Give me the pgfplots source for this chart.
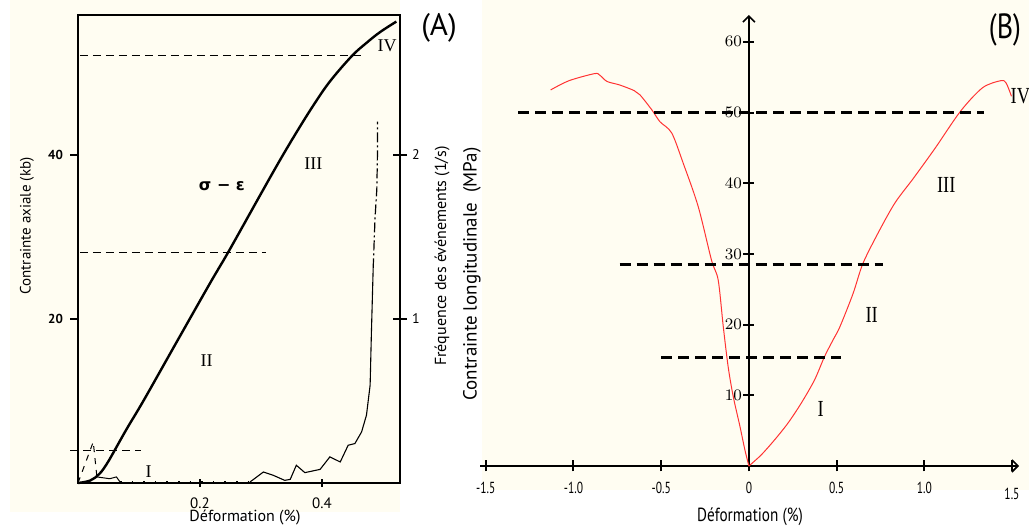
\documentclass[border=0pt]{standalone}
\usepackage{fontspec}
\setmainfont{PT Sans}
\newfontfamily\condfont[FakeStretch=0.72]{PT Sans}
\newfontfamily\condB[FakeStretch=0.8]{PT Sans}
\newfontfamily\greekfont{DejaVu Sans}
\newfontfamily\seriffont{Liberation Serif}
\newfontfamily\serifcond[FakeStretch=0.8]{Liberation Serif}
\usepackage{pgfplots}
\pgfplotsset{compat=1.18}
\usetikzlibrary{arrows.meta}
\definecolor{cream}{HTML}{FFFDF2}
\definecolor{redline}{HTML}{FF3333}
\begin{document}
\begin{tikzpicture}
\path[use as bounding box, fill=white] (0,0) rectangle (514.5pt,264pt);
\fill[cream] (5pt,8pt) rectangle (200pt,264pt);
\fill[cream] (241pt,19pt) rectangle (514.5pt,264pt);

% ---------- Panel A : stress-strain ----------
\begin{axis}[at={(39pt,22.5pt)}, anchor=south west, scale only axis,
  width=161pt, height=234pt,
  xmin=0, xmax=0.528, ymin=0, ymax=57,
  axis line style={line width=1.2pt},
  xtick={0.2,0.4}, xticklabels={0.2,0.4},
  ytick={20,40}, yticklabels={20,40},
  xtick pos=bottom, ytick pos=left,
  xtick align=center, ytick align=outside,
  major tick length=4pt,
  tick style={line width=1pt, black},
  xticklabel style={font=\fontsize{7.5}{8}\selectfont, anchor=center, yshift=-8pt},
  yticklabel style={font=\fontsize{6.5}{7}\selectfont\bfseries},
  clip=false]
\addplot[black, line width=1.2pt, smooth, tension=0.6] coordinates {
 (0,0) (0.020,0.3) (0.035,1.1) (0.047,2.3) (0.058,3.7) (0.080,6.6) (0.108,10.1)
 (0.162,17.2) (0.217,24.4) (0.247,28.2) (0.299,35.1) (0.331,39.3) (0.359,42.8)
 (0.386,46.0) (0.413,48.9) (0.449,52.0) (0.473,53.6) (0.495,54.9) (0.522,56.2)};
\addplot[black, line width=0.6pt, dash pattern=on 4pt off 2.5pt] coordinates {(-0.013,4.0) (0.104,4.0)};
\addplot[black, line width=0.6pt, dash pattern=on 4pt off 2.5pt] coordinates {(0.003,28.1) (0.309,28.1)};
\addplot[black, line width=0.6pt, dash pattern=on 4pt off 2.5pt] coordinates {(0.003,52.1) (0.468,52.1)};
\node[font=\greekfont\bfseries\fontsize{8}{9}\selectfont] at (axis cs:0.236,36.1) {σ − ε};
\node[font=\seriffont\fontsize{9}{10}\selectfont] at (axis cs:0.386,38.9) {III};
\node[font=\seriffont\fontsize{9}{10}\selectfont] at (axis cs:0.211,14.9) {II};
\node[font=\seriffont\fontsize{9}{10}\selectfont] at (axis cs:0.116,1.4) {I};
\node[font=\seriffont\fontsize{9}{10}\selectfont] at (axis cs:0.507,53.3) {IV};
\end{axis}

% ---------- Panel A : event frequency (right axis) ----------
\begin{axis}[at={(39pt,22.5pt)}, anchor=south west, scale only axis,
  width=161pt, height=234pt,
  xmin=0, xmax=0.528, ymin=0, ymax=2.85,
  axis x line=none, axis y line*=right,
  axis line style={line width=1.2pt},
  ytick={1,2}, yticklabels={1,2}, ytick align=center,
  major tick length=7pt, tick style={line width=1pt, black},
  yticklabel style={font=\fontsize{7}{8}\selectfont, anchor=west, xshift=-1pt},
  clip=false]
\addplot[black, line width=0.5pt, dashed] coordinates {(0,0) (0.025,0.25) (0.031,0.037)};
\addplot[black, line width=0.5pt] coordinates {(0.031,0.037) (0.052,0.026) (0.063,0.037) (0.069,0.006)};
\addplot[black, line width=0.6pt, dash pattern=on 0.8pt off 5pt] coordinates {(0.069,0.006) (0.282,0.006)};
\addplot[black, line width=0.55pt] coordinates {
 (0.282,0.006) (0.304,0.067) (0.320,0.047) (0.339,0.016) (0.348,0.022) (0.358,0.108)
 (0.372,0.063) (0.397,0.083) (0.413,0.159) (0.430,0.128) (0.443,0.230) (0.454,0.240)
 (0.465,0.311) (0.473,0.413) (0.479,0.596) (0.481,0.900) (0.484,1.307)};
\addplot[black, line width=0.6pt, dash pattern=on 5pt off 1.5pt on 1pt off 1.5pt] coordinates {
 (0.484,1.307) (0.487,1.61) (0.490,1.79) (0.491,2.0) (0.491,2.20)};
\end{axis}

% Panel A texts
\node[font=\fontsize{7.5}{9}\selectfont, rotate=90] at (13.5pt,151pt) {Contrainte axiale (kb)};
\node[font=\fontsize{8}{9}\selectfont, rotate=90] at (221pt,136pt) {Fréquence des événements (1/s)};
\node[font=\fontsize{8}{9}\selectfont] at (122.5pt,5pt) {Déformation (\%)};
\node[font=\fontsize{15.5}{17}\selectfont] at (219.5pt,250pt) {(A)};

% ---------- Panel B ----------
\begin{axis}[at={(240pt,31pt)}, anchor=south west, scale only axis,
  width=269.5pt, height=225.5pt,
  xmin=-1.533, xmax=1.54, ymin=0, ymax=63.8,
  axis lines=middle,
  axis line style={line width=1.1pt, -{Straight Barb[length=3pt,width=6pt,line width=0.8pt]}},
  xtick={-1.5,-1,-0.5,0,0.5,1}, xticklabels={-1.5,-1.0,-0.5,0,0.5,1.0},
  extra x ticks={1.5}, extra x tick labels={1.5},
  extra x tick style={xticklabel style={yshift=-3pt}},
  ytick={10,20,30,40,50,60},
  hide obscured x ticks=false,
  tick align=center, major tick length=5.5pt,
  tick style={line width=1pt, black},
  xticklabel style={font=\condfont\fontsize{8}{9}\selectfont, anchor=center, yshift=-8pt},
  yticklabel style={font=\condfont\fontsize{8}{9}\selectfont, anchor=center, xshift=-5pt},
  clip=false]
\addplot[redline, line width=0.5pt, smooth, tension=0.5] coordinates {
 (-1.130,53.2) (-1.026,54.5) (-0.881,55.5) (-0.851,55.3) (-0.809,54.4) (-0.737,53.9)
 (-0.654,53.1) (-0.621,52.5) (-0.554,50.4) (-0.507,48.7) (-0.440,47.1) (-0.374,42.8)
 (-0.289,36.7) (-0.213,29.1) (-0.175,26.3) (-0.146,19.7) (-0.118,14.0) (-0.089,9.8)
 (-0.051,5.6) (-0.023,2.3) (0,0)};
\addplot[redline, line width=0.5pt, smooth, tension=0.5] coordinates {
 (0,0) (0.070,1.56) (0.146,3.68) (0.222,6.04) (0.298,8.87) (0.374,12.16) (0.431,15.46)
 (0.479,17.8) (0.519,19.7) (0.594,24.4) (0.651,28.7) (0.746,33.4) (0.835,37.3)
 (0.938,40.7) (1.063,45.0) (1.207,50.2) (1.332,53.5) (1.435,54.5) (1.466,54.2) (1.497,52.3)};
\addplot[black, line width=1.4pt, dash pattern=on 5.5pt off 3pt] coordinates {(-1.316,50) (1.342,50)};
\addplot[black, line width=1.4pt, dash pattern=on 5.5pt off 3pt] coordinates {(-0.737,28.5) (0.763,28.5)};
\addplot[black, line width=1.4pt, dash pattern=on 5.5pt off 3pt] coordinates {(-0.499,15.3) (0.525,15.3)};
\node[font=\serifcond\fontsize{11.5}{12}\selectfont] at (axis cs:0.41,8) {I};
\node[font=\serifcond\fontsize{11.5}{12}\selectfont] at (axis cs:0.70,21.4) {II};
\node[font=\serifcond\fontsize{11.5}{12}\selectfont] at (axis cs:1.125,39.7) {III};
\node[font=\serifcond\fontsize{11.5}{12}\selectfont, anchor=west, inner sep=0pt] at (axis cs:1.490,52.3) {IV};
\end{axis}

% Panel B texts
\node[font=\fontsize{9.5}{11}\selectfont, rotate=90] at (236pt,127pt) {Contrainte longitudinale\ \ (MPa)};
\node[font=\condB\fontsize{9.5}{11}\selectfont] at (375pt,5.5pt) {Déformation (\%)};
\node[font=\condB\fontsize{17.5}{19}\selectfont] at (502.5pt,249pt) {(B)};
\end{tikzpicture}
\end{document}
